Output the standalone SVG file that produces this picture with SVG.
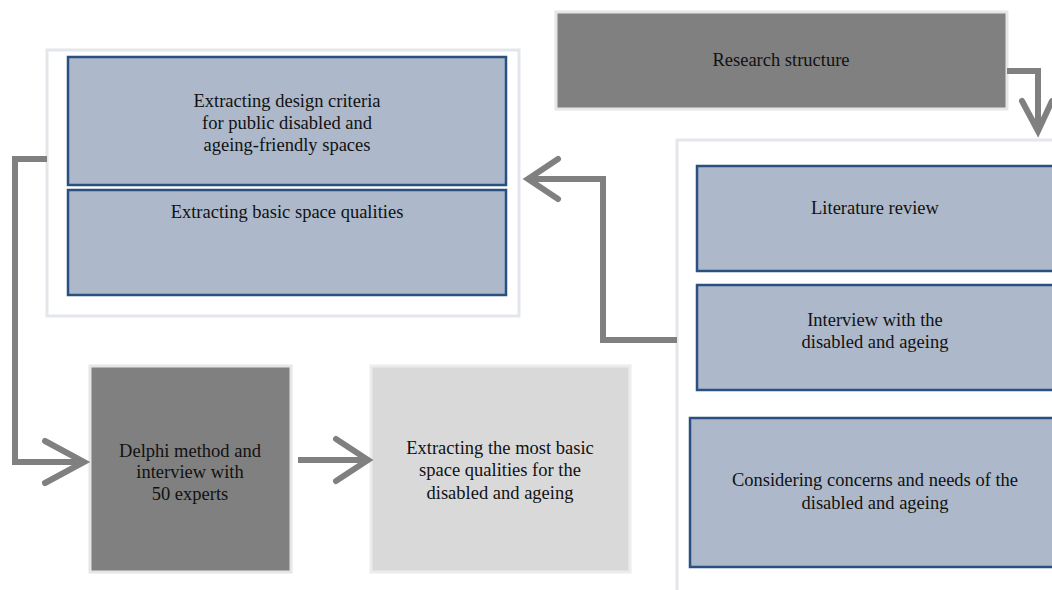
<svg xmlns="http://www.w3.org/2000/svg" width="1052" height="590" viewBox="0 0 1052 590">
<style>
text{font-family:"Liberation Serif","Times New Roman",serif;font-size:18.5px;fill:#111;text-anchor:middle}
.cont{fill:#fff;stroke:#e3e6ea;stroke-width:3}
.blue{fill:#adb9ca;stroke:#2a5082;stroke-width:2.5}
.dark{fill:#808080;stroke:#e6e6e6;stroke-width:3}
.light{fill:#d9d9d9;stroke:#ececec;stroke-width:3}
.con{fill:none;stroke:#808080;stroke-width:6}
.head{fill:none;stroke:#808080;stroke-width:6;stroke-linecap:round;stroke-linejoin:miter}
</style>
<rect width="1052" height="590" fill="#fff"/>
<g id="research"><rect class="dark" x="556" y="12" width="451" height="97"/><text x="781" y="66">Research structure</text></g>
<g id="leftContainer"><rect class="cont" x="47" y="50" width="472" height="266"/></g>
<g id="rightContainer"><rect class="cont" x="677" y="140" width="390" height="470"/></g>
<g id="criteria"><rect class="blue" x="68" y="57" width="438" height="128"/><text x="287" y="107">Extracting design criteria</text><text x="287" y="129">for public disabled and</text><text x="287" y="151">ageing-friendly spaces</text></g>
<g id="basic"><rect class="blue" x="68" y="190" width="438" height="105"/><text x="287" y="218">Extracting basic space qualities</text></g>
<g id="literature"><rect class="blue" x="697" y="166" width="370" height="105"/><text x="875" y="214">Literature review</text></g>
<g id="interview"><rect class="blue" x="697" y="285" width="370" height="105"/><text x="875" y="326">Interview with the</text><text x="875" y="348">disabled and ageing</text></g>
<g id="considering"><rect class="blue" x="690" y="418" width="377" height="149"/><text x="875" y="486">Considering concerns and needs of the</text><text x="875" y="509">disabled and ageing</text></g>
<g id="delphi"><rect class="dark" x="90" y="366" width="201" height="206"/><text x="190" y="457">Delphi method and</text><text x="190" y="478">interview with</text><text x="190" y="500">50 experts</text></g>
<g id="most"><rect class="light" x="371" y="366" width="259" height="206"/><text x="500" y="454">Extracting the most basic</text><text x="500" y="476">space qualities for the</text><text x="500" y="499">disabled and ageing</text></g>
<g id="connectors">
<polyline class="con" points="1007,71 1038,71 1038,130"/>
<polyline class="head" points="1022,101 1038,131 1052,101"/>
<polyline class="con" points="677,340 603,340 603,179 530,179"/>
<polyline class="head" points="558,159 528,179 558,199"/>
<polyline class="con" points="47,159 15,159 15,462 84,462"/>
<polyline class="head" points="45,441 84,462 45,483"/>
<polyline class="con" points="298,460 368,460"/>
<polyline class="head" points="336,439 368,460 336,481"/>
</g>
</svg>
